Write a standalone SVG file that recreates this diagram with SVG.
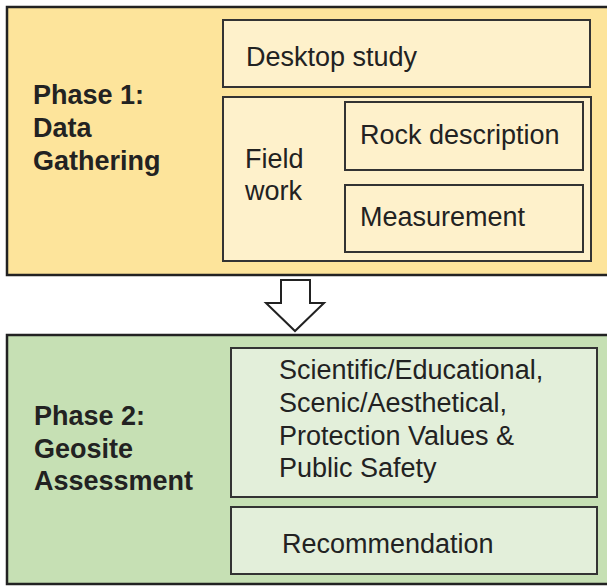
<svg xmlns="http://www.w3.org/2000/svg" width="607" height="587" viewBox="0 0 607 587">
<style>
text{font-family:"Liberation Sans",Arial,sans-serif;font-size:27px;fill:#222}
.b{font-weight:bold}
.o{stroke:#222;stroke-width:2.5}
.i{stroke:#333;stroke-width:2}
.y1{fill:#fde49b}.y2{fill:#fef1cb}
.g1{fill:#c6e0b4}.g2{fill:#e3efda}
</style>
<rect width="607" height="587" fill="#fff"/>
<g id="phase1">
<rect class="o y1" x="7" y="7" width="615" height="268"/>
<text class="b" x="33" y="104">Phase 1:</text>
<text class="b" x="33" y="137">Data</text>
<text class="b" x="33" y="170">Gathering</text>
</g>
<g id="desktop">
<rect class="i y2" x="223" y="20" width="367" height="67"/>
<text x="246" y="66">Desktop study</text>
</g>
<g id="fieldwork">
<rect class="i y2" x="223" y="97" width="368" height="164"/>
<text x="245" y="168">Field</text>
<text x="245" y="200">work</text>
</g>
<g id="rock">
<rect class="i y2" x="345" y="102" width="238" height="68"/>
<text x="360" y="144">Rock description</text>
</g>
<g id="measurement">
<rect class="i y2" x="345" y="185" width="238" height="67"/>
<text x="360" y="226">Measurement</text>
</g>
<g id="connectors">
<path d="M281 280 H310 V303 H324 L295 331 L266 303 H281 Z" fill="#fff" stroke="#222" stroke-width="2" stroke-linejoin="miter"/>
</g>
<g id="phase2">
<rect class="o g1" x="7" y="335" width="615" height="249"/>
<text class="b" x="34" y="425">Phase 2:</text>
<text class="b" x="34" y="458">Geosite</text>
<text class="b" x="34" y="490">Assessment</text>
</g>
<g id="values">
<rect class="i g2" x="231" y="348" width="366" height="149"/>
<text x="279" y="379">Scientific/Educational,</text>
<text x="279" y="412">Scenic/Aesthetical,</text>
<text x="279" y="445">Protection Values &amp;</text>
<text x="279" y="477">Public Safety</text>
</g>
<g id="recommendation">
<rect class="i g2" x="231" y="507" width="366" height="67"/>
<text x="282" y="553">Recommendation</text>
</g>
</svg>
